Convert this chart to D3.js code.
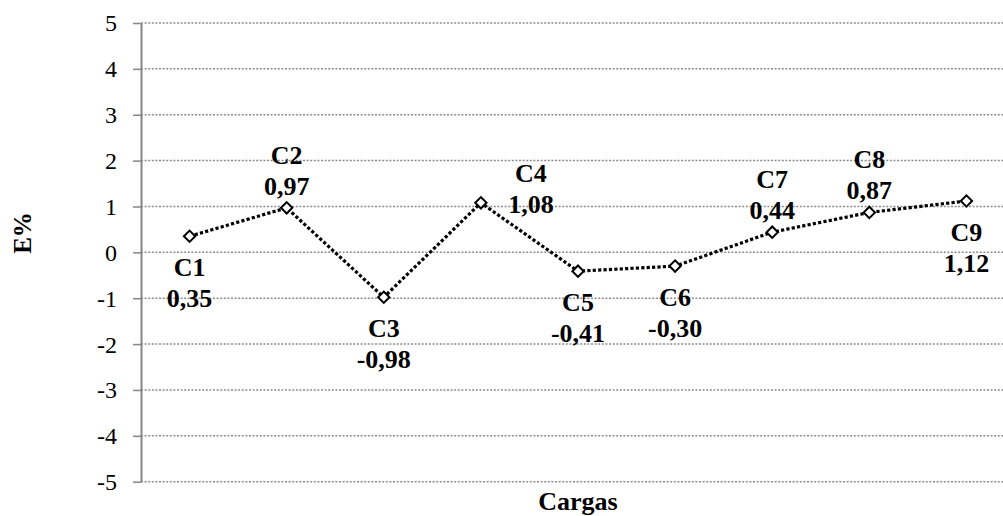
<!DOCTYPE html>
<html>
<head>
<meta charset="utf-8">
<script src="https://cdn.jsdelivr.net/npm/d3@7"></script>
<style>
  body { margin: 0; background: #fff; }
  svg { display: block; }
</style>
</head>
<body>
<div id="chart"></div>
<script>
// Data
var cargas = ["C1", "C2", "C3", "C4", "C5", "C6", "C7", "C8", "C9"];
var erro = [0.35, 0.97, -0.98, 1.08, -0.41, -0.30, 0.44, 0.87, 1.12];
var yTicks = [-5, -4, -3, -2, -1, 0, 1, 2, 3, 4, 5];
// where each data label sits relative to its point
var labelPlace = ["below", "above", "below", "right", "below", "below", "above", "above", "below"];

var FONT = '"Liberation Serif", "Times New Roman", serif';

var width = 1003,
    height = 516,
    margin = {top: 23, right: -12, bottom: 34, left: 141};

var svg = d3.select('#chart')
            .append('svg')
            .attr('width', width)
            .attr('height', height);

var x = d3.scalePoint()
          .domain(cargas)
          .range([margin.left, width - margin.right])
          .padding(0.5);

var y = d3.scaleLinear()
          .domain([-5, 5])
          .range([height - margin.bottom - 0.3, margin.top]);

// Grid lines
svg.append('g')
   .selectAll('line')
   .data(yTicks)
   .enter().append('line')
   .attr('x1', margin.left)
   .attr('x2', width - margin.right)
   .attr('y1', function(d) { return y(d); })
   .attr('y2', function(d) { return y(d); })
   .attr('stroke', '#8c8c8c')
   .attr('stroke-width', 1.5)
   .attr('stroke-dasharray', '2,1.6');

// Y axis
var y_axis = d3.axisLeft(y)
               .tickValues(yTicks)
               .tickFormat(d3.format('d'))
               .tickSizeInner(8)
               .tickSizeOuter(0)
               .tickPadding(16);

var gy = svg.append('g')
            .attr('transform', 'translate(' + margin.left + ',0)')
            .call(y_axis);

gy.select('.domain').attr('stroke', '#868686').attr('stroke-width', 2);
gy.selectAll('.tick line').attr('stroke', '#868686').attr('stroke-width', 1.5);
gy.selectAll('.tick text')
  .style('font-family', FONT)
  .style('font-size', '24px')
  .attr('fill', '#000')
  .attr('dy', '0.33em')
  .text(function(d) { return d < 0 ? '-' + Math.abs(d) : d; });

// Line
var line = d3.line()
             .x(function(d, i) { return x(cargas[i]); })
             .y(function(d) { return y(d); });

svg.append('path')
   .attr('d', line(erro))
   .attr('fill', 'none')
   .attr('stroke', '#000')
   .attr('stroke-width', 3.2)
   .attr('stroke-dasharray', '3.2,2.2');

// Diamond markers
svg.append('g')
   .selectAll('path')
   .data(erro)
   .enter().append('path')
   .attr('transform', function(d, i) { return 'translate(' + x(cargas[i]) + ',' + y(d) + ') rotate(45)'; })
   .attr('d', 'M-4,-4H4V4H-4Z')
   .attr('fill', '#fff')
   .attr('stroke', '#000')
   .attr('stroke-width', 2);

// Data labels
var fmt = function(v) { return d3.format('.2f')(v).replace('.', ',').replace('−', '-'); };

var labels = svg.append('g')
                .attr('text-anchor', 'middle')
                .selectAll('g')
                .data(erro)
                .enter().append('g')
                .attr('transform', function(d, i) {
                  var dx = labelPlace[i] === 'right' ? 50 : 0;
                  return 'translate(' + (x(cargas[i]) + dx) + ',' + y(d) + ')';
                });

labels.append('text')
      .attr('y', function(d, i) {
        var p = labelPlace[i];
        return p === 'above' ? -44 : (p === 'right' ? -21 : 40);
      })
      .text(function(d, i) { return cargas[i]; });

labels.append('text')
      .attr('y', function(d, i) {
        var p = labelPlace[i];
        return p === 'above' ? -13 : (p === 'right' ? 10 : 71);
      })
      .text(function(d) { return fmt(d); });

labels.selectAll('text')
      .style('font-family', FONT)
      .style('font-size', '26px')
      .style('font-weight', 'bold');

// Axis titles
svg.append('text')
   .attr('x', (margin.left + width - margin.right) / 2)
   .attr('y', 510)
   .attr('text-anchor', 'middle')
   .style('font-family', FONT)
   .style('font-weight', 'bold')
   .style('font-size', '26px')
   .text('Cargas');

svg.append('text')
   .attr('transform', 'translate(31,' + 233 + ') rotate(-90)')
   .attr('text-anchor', 'middle')
   .style('font-family', FONT)
   .style('font-weight', 'bold')
   .style('font-size', '25px')
   .text('E%');
</script>
</body>
</html>
